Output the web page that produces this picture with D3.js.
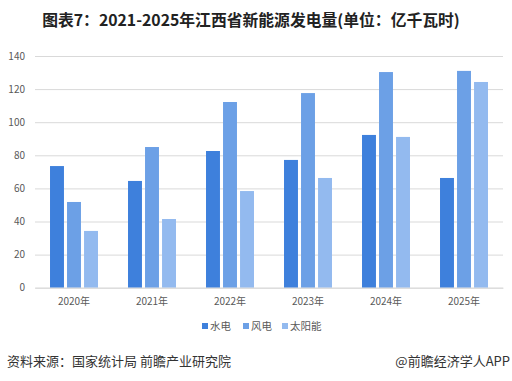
<!DOCTYPE html>
<html><head><meta charset="utf-8">
<script src="https://cdnjs.cloudflare.com/ajax/libs/d3/7.8.5/d3.min.js"></script>
<style>body{margin:0;background:#fff;}svg{display:block;}</style>
</head><body>
<script>
const categories = ["2020年","2021年","2022年","2023年","2024年","2025年"];
const seriesNames = ["水电","风电","太阳能"];
const hydro = [73.5, 64.5, 82.6, 77.2, 92.3, 66.3];
const wind  = [51.8, 85.0, 112.2, 117.6, 130.3, 131.0];
const solar = [34.3, 41.5, 58.4, 66.3, 91.1, 124.3];
const yTicks = [0,20,40,60,80,100,120,140];
const colors = ["#3E80DC","#6CA0E6","#93BAEF"];
const title = "图表7：2021-2025年江西省新能源发电量(单位：亿千瓦时)";
const source = "资料来源：国家统计局 前瞻产业研究院";
const credit = "@前瞻经济学人APP";

const W = 512, H = 381;
const font = "'Noto Sans CJK SC','Microsoft YaHei',sans-serif";
const svg = d3.select("body").append("svg").attr("width", W).attr("height", H);

const series = [hydro, wind, solar];
const x0 = d3.scaleBand().domain(categories).range([35, 503]).paddingInner(0.385).paddingOuter(0.1925);
const x1 = d3.scaleBand().domain(seriesNames).range([0, x0.bandwidth()]).paddingInner(0.18);
const y = d3.scaleLinear().domain([0, 140]).range([287.7, 56]);

svg.append("text").attr("x", 251).attr("y", 26).attr("text-anchor", "middle")
  .attr("font-family", font).attr("font-weight", "bold").attr("font-size", 15.8).attr("fill", "#222")
  .text(title);

// grid
const yAxis = d3.axisLeft(y).tickValues(yTicks).tickSize(-(503 - 35)).tickPadding(10);
const ga = svg.append("g").attr("transform", "translate(35,0)").call(yAxis);
ga.select(".domain").remove();
ga.selectAll(".tick line").attr("stroke", "#d9d9d9").attr("stroke-width", 1);
ga.selectAll(".tick text").attr("font-family", font).attr("font-size", 10).attr("fill", "#595959");

// bars
const groups = svg.append("g").selectAll("g").data(categories).join("g")
  .attr("transform", d => `translate(${x0(d)},0)`);
groups.selectAll("rect").data((c, i) => seriesNames.map((s, j) => ({s, v: series[j][i], j})))
  .join("rect")
  .attr("x", d => x1(d.s)).attr("width", x1.bandwidth())
  .attr("y", d => y(d.v)).attr("height", d => y(0) - y(d.v))
  .attr("fill", d => colors[d.j]);

// x axis
const xAxis = d3.axisBottom(x0).tickSize(0).tickPadding(10);
const gx = svg.append("g").attr("transform", `translate(0,${y(0)})`).call(xAxis);
gx.select(".domain").attr("stroke", "#d9d9d9");
gx.selectAll(".tick text").attr("font-family", font).attr("font-size", 10).attr("fill", "#595959");

// legend
const legX = [202, 243, 282];
const leg = svg.append("g").selectAll("g").data(seriesNames).join("g")
  .attr("transform", (d, i) => `translate(${legX[i]},326)`);
leg.append("rect").attr("x", 0).attr("y", -3).attr("width", 6).attr("height", 6).attr("fill", (d, i) => colors[i]);
leg.append("text").attr("x", 8).attr("y", 4).attr("font-family", font).attr("font-size", 10.5)
  .attr("fill", "#595959").text(d => d);

// footer
svg.append("text").attr("x", 7).attr("y", 366).attr("font-family", font).attr("font-size", 13)
  .attr("fill", "#333").text(source);
svg.append("text").attr("x", 510).attr("y", 366).attr("text-anchor", "end").attr("font-family", font)
  .attr("font-size", 13).attr("fill", "#333").text(credit);
</script>
</body></html>
